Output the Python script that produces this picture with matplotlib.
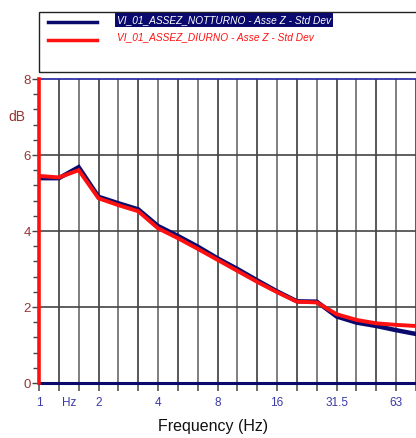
import matplotlib.pyplot as plt
from matplotlib.lines import Line2D
from matplotlib.patches import Rectangle
from matplotlib.ticker import MultipleLocator

plt.rcParams['font.family'] = ['Liberation Sans Narrow', 'Liberation Sans', 'DejaVu Sans']

# third-octave bands (Hz), plotted at equal spacing
bands = [1, 1.25, 1.6, 2, 2.5, 3.15, 4, 5, 6.3, 8, 10, 12.5, 16, 20, 25, 31.5, 40, 50, 63, 80]
notturno = [5.39, 5.39, 5.68, 4.90, 4.73, 4.57, 4.13, 3.87, 3.59, 3.28,
            3.00, 2.70, 2.41, 2.15, 2.14, 1.75, 1.59, 1.50, 1.39, 1.29]
diurno = [5.45, 5.41, 5.60, 4.86, 4.68, 4.52, 4.07, 3.81, 3.53, 3.24,
          2.95, 2.66, 2.39, 2.14, 2.12, 1.81, 1.66, 1.57, 1.53, 1.50]
tick_labels = {0: '1', 1.5: 'Hz', 3: '2', 6: '4', 9: '8', 12: '16', 15: '31.5', 18: '63'}

navy = '#0a0a6e'
red = '#ff1010'
dred = '#993333'
blue = '#3a3aa8'

W, H = 416, 438
fig = plt.figure(figsize=(W / 100, H / 100), dpi=100)
ax = fig.add_axes([39 / W, 1 - 383 / H, 1 - 39 / W, (383 - 79) / H])

x = list(range(len(bands)))
ax.plot(x, notturno, color=navy, lw=3.2, solid_joinstyle='miter', zorder=4)
ax.plot(x, diurno, color=red, lw=2.8, solid_joinstyle='miter', zorder=5)

ax.set_xlim(0, (W - 39) / 20)
ax.set_ylim(0, 8)

# vertical grid on every band
for i in x:
    ax.axvline(i, color='#3c3c3c' if i % 2 else '#6a6a6a', lw=1.2, zorder=1)
for v in [2, 4, 6]:
    ax.axhline(v, color='#444444', lw=1.2, zorder=1)

ax.set_xticks(x)
ax.set_xticklabels([])
ax.tick_params(axis='x', direction='out', length=5.5, width=1.1, color='#444444')
for pos, lab in tick_labels.items():
    ax.text(pos, -0.38, lab, ha='center', va='top', color=blue, fontsize=8.5,
            family='Liberation Sans', transform=ax.transData)

ax.set_yticks([0, 2, 4, 6, 8])
ax.yaxis.set_minor_locator(MultipleLocator(0.4))
ax.tick_params(axis='y', which='major', direction='out', length=5, width=1,
               color='#444444', labelcolor=dred, labelsize=9.5, pad=1)
ax.tick_params(axis='y', which='minor', direction='out', length=4, width=1, color='#444444')
for t in ax.get_yticklabels():
    t.set_family('Liberation Sans')

ax.spines['right'].set_visible(False)
ax.spines['top'].set_color('#2020a0')
ax.spines['top'].set_linewidth(1.2)
ax.spines['bottom'].set_color(navy)
ax.spines['bottom'].set_linewidth(2.2)
ax.spines['left'].set_color(red)
ax.spines['left'].set_linewidth(2.6)
ax.spines['left'].set_zorder(6)

fig.text(17 / W, 1 - 117 / H, 'dB', color=dred, fontsize=10, ha='center', va='center',
         family='Liberation Sans')
fig.text(213 / W, 1 - 426 / H, 'Frequency (Hz)', color='#111111', fontsize=11.5,
         ha='center', va='center')

# legend box
fig.patches.append(Rectangle((39 / W, 1 - 72 / H), 1.0, 60 / H, transform=fig.transFigure,
                             fill=False, edgecolor='#222222', lw=1.0))
fig.add_artist(Line2D([48 / W, 97 / W], [1 - 22 / H] * 2, color=navy, lw=2.5,
                      transform=fig.transFigure))
fig.add_artist(Line2D([48 / W, 97 / W], [1 - 40 / H] * 2, color=red, lw=2.5,
                      transform=fig.transFigure))
fig.text(117 / W, 1 - 20 / H, 'VI_01_ASSEZ_NOTTURNO - Asse Z - Std Dev', color='white',
         fontsize=7.3, style='italic', va='center',
         bbox=dict(boxstyle='square,pad=0.2', fc=navy, ec='none'))
fig.text(117 / W, 1 - 37 / H, 'VI_01_ASSEZ_DIURNO - Asse Z - Std Dev', color=red,
         fontsize=7.3, style='italic', va='center')

fig.savefig('out.png', dpi=100)
